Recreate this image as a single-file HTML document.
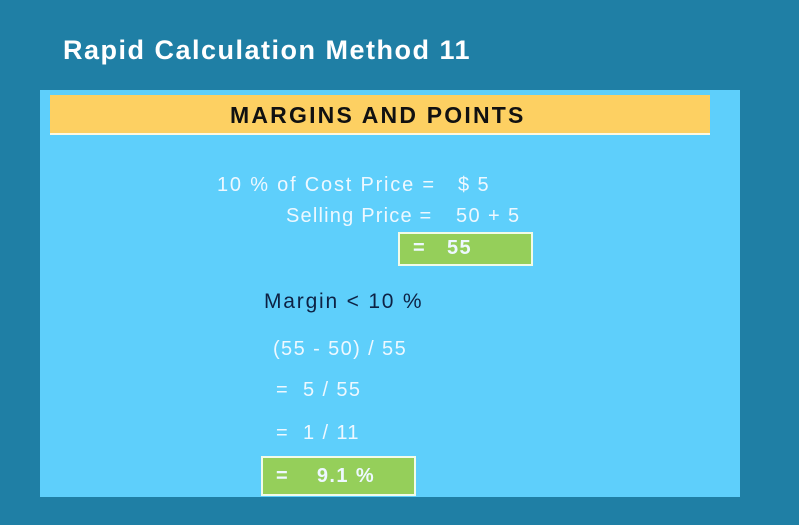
<!DOCTYPE html>
<html><head><meta charset="utf-8"><style>
body{margin:0;width:799px;height:525px;background:#1f7fa5;position:relative;overflow:hidden;font-family:"Liberation Sans",sans-serif}
.a{position:absolute;white-space:nowrap}
.t{color:#eef8ff;font-size:20px;line-height:22px;letter-spacing:1.4px}
.g{position:absolute;background:#95cf5a;border:2px solid #f2fbe8;box-sizing:border-box}
</style></head><body>
<div class="a" style="left:63px;top:35px;color:#fff;font-weight:bold;font-size:27px;letter-spacing:1.5px">Rapid Calculation Method 11</div>
<div class="a" style="left:40px;top:90px;width:700px;height:407px;background:#5ecffb"></div>
<div class="a" style="left:50px;top:95px;width:660px;height:40px;background:#fdd062;border-bottom:2px solid #fff8e0;box-sizing:border-box"></div>
<div class="a" style="left:230px;top:102px;font-weight:bold;font-size:23px;letter-spacing:2.2px;color:#111">MARGINS AND POINTS</div>
<div class="a t" style="left:217px;top:174px;letter-spacing:1.8px">10 % of Cost Price =</div>
<div class="a t" style="left:458px;top:174px">$ 5</div>
<div class="a t" style="left:286px;top:205px;letter-spacing:1.2px">Selling Price =</div>
<div class="a t" style="left:456px;top:205px">50 + 5</div>
<div class="g" style="left:398px;top:232px;width:135px;height:34px"></div>
<div class="a t" style="left:413px;top:237px;font-weight:bold">=&nbsp;&nbsp;&nbsp;55</div>
<div class="a" style="left:264px;top:290px;font-size:21px;letter-spacing:1.8px;color:#0d2244">Margin &lt; 10 %</div>
<div class="a t" style="left:273px;top:338px">(55 - 50) / 55</div>
<div class="a t" style="left:276px;top:379px">=&nbsp;&nbsp;5 / 55</div>
<div class="a t" style="left:276px;top:422px">=&nbsp;&nbsp;1 / 11</div>
<div class="g" style="left:261px;top:456px;width:155px;height:40px"></div>
<div class="a t" style="left:276px;top:465px;font-weight:bold">=&nbsp;&nbsp;&nbsp;&nbsp;9.1 %</div>
</body></html>
